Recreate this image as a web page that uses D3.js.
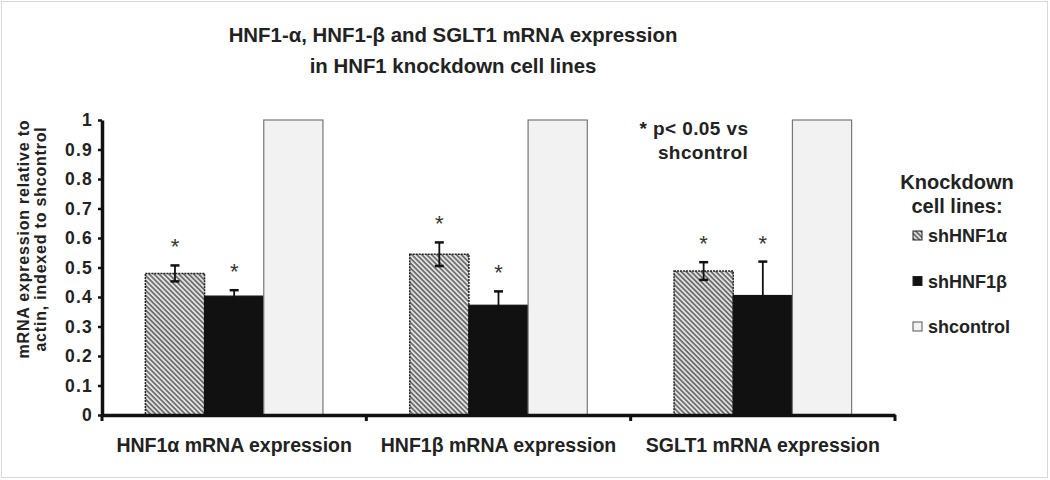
<!DOCTYPE html>
<html>
<head>
<meta charset="utf-8">
<script src="https://cdn.jsdelivr.net/npm/d3@7"></script>
<style>
  html, body { margin: 0; padding: 0; background: #fff; }
  svg { display: block; font-family: Arial, "Liberation Sans", sans-serif; }
</style>
</head>
<body>
<svg id="chart" width="1050" height="480"></svg>
<script>
const categories = ["HNF1α mRNA expression", "HNF1β mRNA expression", "SGLT1 mRNA expression"];
const seriesNames = ["shHNF1α", "shHNF1β", "shcontrol"];
const shHNF1a = [0.48, 0.545, 0.488];
const shHNF1aErr = [0.027, 0.04, 0.03];
const shHNF1b = [0.403, 0.372, 0.405];
const shHNF1bErr = [0.02, 0.047, 0.115];
const shcontrol = [1, 1, 1];
const shcontrolErr = [null, null, null];
const significant = [[true, true, false], [true, true, false], [true, true, false]];
const yTicks = [0, 0.1, 0.2, 0.3, 0.4, 0.5, 0.6, 0.7, 0.8, 0.9, 1];

const values = [shHNF1a, shHNF1b, shcontrol];
const errors = [shHNF1aErr, shHNF1bErr, shcontrolErr];
const rows = [];
categories.forEach((c, ci) => {
  seriesNames.forEach((s, si) => {
    rows.push({cat: c, series: s, si, value: values[si][ci], err: errors[si][ci], sig: significant[ci][si]});
  });
});

const svg = d3.select("#chart");

// pattern for hatched series
const defs = svg.append("defs");
const pat = defs.append("pattern").attr("id", "hatch").attr("patternUnits", "userSpaceOnUse")
  .attr("width", 3.5).attr("height", 3.5).attr("patternTransform", "rotate(45)");
pat.append("rect").attr("width", 3.5).attr("height", 3.5).attr("fill", "#e2e2e2");
pat.append("rect").attr("width", 3.5).attr("height", 1.7).attr("fill", "#6a6a6a");

// outer border
svg.append("rect").attr("x", 1.5).attr("y", 1.5).attr("width", 1046).attr("height", 476)
  .attr("fill", "none").attr("stroke", "#d8d8d8").attr("stroke-width", 1);

const x0 = d3.scaleBand().domain(categories).range([102, 895]).paddingInner(0).paddingOuter(0);
const x1 = d3.scaleBand().domain(seriesNames).range([0, x0.bandwidth()]).paddingInner(0).paddingOuter(0.733);
const y = d3.scaleLinear().domain([0, 1]).range([415, 120]);

const fills = {"shHNF1α": "url(#hatch)", "shHNF1β": "#111", "shcontrol": "#f2f2f2"};
const strokes = {"shHNF1α": "#222", "shHNF1β": "#111", "shcontrol": "#777"};

// bars
svg.append("g").selectAll("rect").data(rows).join("rect")
  .attr("x", d => x0(d.cat) + x1(d.series))
  .attr("y", d => y(d.value))
  .attr("width", x1.bandwidth())
  .attr("height", d => y(0) - y(d.value))
  .attr("fill", d => fills[d.series])
  .attr("stroke", d => strokes[d.series])
  .attr("stroke-width", d => d.series === "shHNF1α" ? 1.5 : 1.2)
  .attr("stroke-dasharray", d => d.series === "shHNF1α" ? "2,1" : null);

// error bars
const eg = svg.append("g").attr("stroke", "#111").attr("stroke-width", 1.8).attr("fill", "none");
rows.filter(d => d.err != null).forEach(d => {
  const cx = x0(d.cat) + x1(d.series) + x1.bandwidth() / 2;
  const top = y(d.value + d.err), bot = y(d.value - d.err);
  eg.append("line").attr("x1", cx).attr("x2", cx).attr("y1", top).attr("y2", bot);
  eg.append("line").attr("x1", cx - 4.5).attr("x2", cx + 4.5).attr("y1", top).attr("y2", top).attr("stroke-width", 2.5);
  eg.append("line").attr("x1", cx - 4.5).attr("x2", cx + 4.5).attr("y1", bot).attr("y2", bot).attr("stroke-width", 2.5);
});

// significance asterisks
svg.append("g").selectAll("text").data(rows.filter(d => d.sig)).join("text")
  .attr("x", d => x0(d.cat) + x1(d.series) + x1.bandwidth() / 2)
  .attr("y", d => y(d.value + (d.err || 0)) - 11)
  .attr("text-anchor", "middle")
  .attr("font-size", 22).attr("fill", "#333")
  .text("*");

// y axis
const yAxis = d3.axisLeft(y).tickValues(yTicks).tickFormat(d3.format(".1~f")).tickSize(4).tickSizeOuter(0);
const yg = svg.append("g").attr("transform", "translate(102,0)").call(yAxis);
yg.select(".domain").attr("stroke", "#111").attr("stroke-width", 3.5);
yg.selectAll(".tick line").attr("stroke", "#111").attr("stroke-width", 2.5);
yg.selectAll(".tick text").attr("font-size", 17.5).attr("font-weight", "bold").attr("fill", "#222")
  .attr("letter-spacing", 1.2)
  .attr("font-family", "Arial, 'Liberation Sans', sans-serif").attr("x", -9);

// x axis
const xAxis = d3.axisBottom(x0).tickSize(0).tickFormat("");
const xg = svg.append("g").attr("transform", "translate(0,415)").call(xAxis);
xg.select(".domain").attr("stroke", "#111").attr("stroke-width", 3.5);
// boundary ticks
const bounds = categories.map(c => x0(c)).concat([x0.range()[1]]);
svg.append("g").selectAll("line").data(bounds).join("line")
  .attr("x1", d => d).attr("x2", d => d).attr("y1", 415).attr("y2", 421)
  .attr("stroke", "#111").attr("stroke-width", 3);

// category labels
svg.append("g").selectAll("text").data(categories).join("text")
  .attr("x", d => x0(d) + x0.bandwidth() / 2)
  .attr("y", 452)
  .attr("text-anchor", "middle")
  .attr("font-size", 19.5).attr("font-weight", "bold").attr("fill", "#222")
  .text(d => d);

// y-axis title
const yt = svg.append("text").attr("transform", "translate(29,239) rotate(-90)")
  .attr("text-anchor", "middle").attr("font-size", 16).attr("font-weight", "bold").attr("fill", "#222")
  .attr("letter-spacing", 0.8);
yt.append("tspan").attr("x", 0).attr("dy", 0).text("mRNA expression relative to");
yt.append("tspan").attr("x", 0).attr("dy", 16.5).text("actin, indexed to shcontrol");

// title
const title = svg.append("text").attr("text-anchor", "middle").attr("font-size", 20.4).attr("font-weight", "bold").attr("fill", "#222");
title.append("tspan").attr("x", 453).attr("y", 42).text("HNF1-α, HNF1-β and SGLT1 mRNA expression");
title.append("tspan").attr("x", 453).attr("y", 73).text("in HNF1 knockdown cell lines");

// annotation
const ann = svg.append("text").attr("text-anchor", "middle").attr("font-size", 19).attr("font-weight", "bold").attr("fill", "#222")
  .attr("letter-spacing", 0.4);
ann.append("tspan").attr("x", 694).attr("y", 135).text("* p< 0.05 vs");
ann.append("tspan").attr("x", 703).attr("y", 159).text("shcontrol");

// legend
const lg = svg.append("g");
const lt = lg.append("text").attr("text-anchor", "middle").attr("font-size", 20).attr("font-weight", "bold").attr("fill", "#222");
lt.append("tspan").attr("x", 957).attr("y", 189).text("Knockdown");
lt.append("tspan").attr("x", 957).attr("y", 213).text("cell lines:");
const ly = d3.scalePoint().domain(seriesNames).range([242, 333]);
const items = lg.selectAll("g.item").data(seriesNames).join("g").attr("class", "item")
  .attr("transform", d => `translate(913,${ly(d)})`);
items.append("rect").attr("x", 0).attr("y", -11).attr("width", 9).attr("height", 9)
  .attr("fill", d => fills[d]).attr("stroke", d => d === "shcontrol" ? "#555" : "#222").attr("stroke-width", 1);
items.append("text").attr("x", 15).attr("y", 0).attr("font-size", 18).attr("font-weight", "bold").attr("fill", "#222").text(d => d);
</script>
</body>
</html>
